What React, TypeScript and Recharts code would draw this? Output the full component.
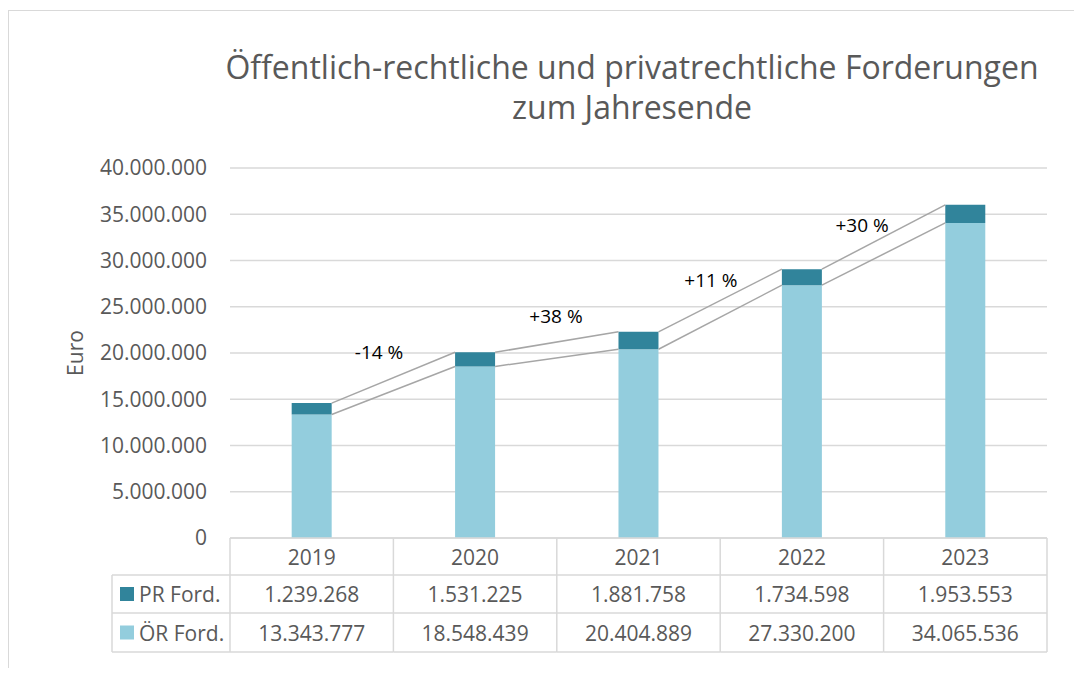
import React from 'react';
import { ComposedChart, Bar, XAxis, YAxis, CartesianGrid, ReferenceLine, ReferenceDot } from 'recharts';

// ---- data ----
const years = ['2019', '2020', '2021', '2022', '2023'];
const prFord = [1239268, 1531225, 1881758, 1734598, 1953553];
const oerFord = [13343777, 18548439, 20404889, 27330200, 34065536];
const yTicks = [0, 5000000, 10000000, 15000000, 20000000, 25000000, 30000000, 35000000, 40000000];
const seriesNames = ['PR Ford.', 'ÖR Ford.'];
const changeLabels = ['-14 %', '+38 %', '+11 %', '+30 %'];
const changeLabelX = [0.912, 1.995, 2.943, 3.868];
const changeLabelY = [20050000, 24020000, 27900000, 33780000];
const titleLines = ['Öffentlich-rechtliche und privatrechtliche Forderungen', 'zum Jahresende'];

// ---- styles ----
const FONT = "'Open Sans', 'Noto Sans', sans-serif";
const TEXT = '#595959';
const GRID = '#D9D9D9';
const PR_COLOR = '#31849B';
const OER_COLOR = '#93CDDD';
const CONNECTOR = '#A6A6A6';
const BAR_FRAC = 0.245;
const W = 1060;
const H = 650;
const ROW_TOP = [0, 37, 75, 114];
const LEGEND_W = 118;

const data = years.map((year, i) => ({ year, pos: i + 0.5, oer: oerFord[i], pr: prFord[i] }));
const totals = years.map((_, i) => oerFord[i] + prFord[i]);

const fmt = (n: number) => Math.round(n).toString().replace(/\B(?=(\d{3})+(?!\d))/g, '.');

const TableTick = (props: any) => {
  const { x, y, index, payload, width, visibleTicksCount } = props;
  const band = width && visibleTicksCount ? width / visibleTicksCount : 163.4;
  const half = band / 2;
  const top = y - 8;
  const left = x - half;
  const right = x + half;
  const txt = { fill: TEXT, fontSize: 21, fontFamily: FONT, textAnchor: 'middle' as const, dominantBaseline: 'central' as const };
  const rowsMid = [(ROW_TOP[0] + ROW_TOP[1]) / 2, (ROW_TOP[1] + ROW_TOP[2]) / 2, (ROW_TOP[2] + ROW_TOP[3]) / 2];
  return (
    <g>
      <line x1={right} x2={right} y1={top} y2={top + ROW_TOP[3]} stroke={GRID} strokeWidth={1.5} />
      {[1, 2, 3].map((r) => (
        <line key={r} x1={left} x2={right} y1={top + ROW_TOP[r]} y2={top + ROW_TOP[r]} stroke={GRID} strokeWidth={1.5} />
      ))}
      <text x={x} y={top + rowsMid[0]} {...txt}>{payload.value}</text>
      <text x={x} y={top + rowsMid[1]} {...txt}>{fmt(prFord[index])}</text>
      <text x={x} y={top + rowsMid[2]} {...txt}>{fmt(oerFord[index])}</text>
      {index === 0 && (
        <g>
          <line x1={left} x2={left} y1={top} y2={top + ROW_TOP[3]} stroke={GRID} strokeWidth={1.5} />
          <line x1={left - LEGEND_W} x2={left - LEGEND_W} y1={top + ROW_TOP[1]} y2={top + ROW_TOP[3]} stroke={GRID} strokeWidth={1.5} />
          {[1, 2, 3].map((r) => (
            <line key={r} x1={left - LEGEND_W} x2={left} y1={top + ROW_TOP[r]} y2={top + ROW_TOP[r]} stroke={GRID} strokeWidth={1.5} />
          ))}
          {[PR_COLOR, OER_COLOR].map((c, k) => (
            <g key={k}>
              <rect x={left - LEGEND_W + 8} y={top + rowsMid[k + 1] - 7} width={14} height={14} fill={c} />
              <text x={left - LEGEND_W + 27} y={top + rowsMid[k + 1]} fill={TEXT} fontSize={21} fontFamily={FONT} dominantBaseline="central">
                {seriesNames[k]}
              </text>
            </g>
          ))}
        </g>
      )}
    </g>
  );
};

const EuroLabel = (props: any) => {
  const vb = props.viewBox || { x: 0, y: 157, height: 370 };
  const cx = vb.x + 66;
  const cy = vb.y + vb.height / 2;
  return (
    <text x={cx} y={cy} transform={`rotate(-90 ${cx} ${cy})`} textAnchor="middle" dominantBaseline="central" fill={TEXT} fontSize={21} fontFamily={FONT}>
      Euro
    </text>
  );
};

export default function App() {
  const h = BAR_FRAC / 2;
  return (
    <div style={{ position: 'relative', width: 1066, height: 660, overflow: 'hidden' }}>
      <div style={{ position: 'absolute', left: 0, top: 2, width: 2000, height: 2000, borderTop: `1px solid ${GRID}`, borderLeft: `1px solid ${GRID}` }} />
      {titleLines.map((t, i) => (
        <div key={i} style={{ position: 'absolute', left: 124, width: 1000, top: 39 + i * 40, height: 40, lineHeight: '40px', textAlign: 'center', fontFamily: FONT, fontSize: 32, color: TEXT, whiteSpace: 'nowrap' }}>
          {t}
        </div>
      ))}
      <div style={{ position: 'absolute', left: 1, top: 3 }}>
        <ComposedChart width={W} height={H} data={data} margin={{ top: 157, right: 22, bottom: 8, left: 0 }} barCategoryGap={`${((1 - BAR_FRAC) / 2) * 100}%`}>
          <CartesianGrid vertical={false} stroke={GRID} strokeWidth={1.5} />
          <XAxis dataKey="year" height={115} axisLine={{ stroke: GRID, strokeWidth: 1.5 }} tickLine={false} interval={0} tick={<TableTick />} />
          <XAxis xAxisId="num" dataKey="pos" type="number" domain={[0, 5]} allowDataOverflow hide />
          <YAxis
            width={221}
            domain={[0, 40000000]}
            ticks={yTicks}
            interval={0}
            axisLine={false}
            tickLine={false}
            tickMargin={17}
            tickFormatter={fmt}
            tick={{ fill: TEXT, fontSize: 21, fontFamily: FONT }}
            label={<EuroLabel />}
          />
          <Bar dataKey="oer" stackId="a" fill={OER_COLOR} isAnimationActive={false} />
          <Bar dataKey="pr" stackId="a" fill={PR_COLOR} isAnimationActive={false} />
          {years.slice(0, -1).map((_, i) => (
            <ReferenceLine
              key={`t${i}`}
              xAxisId="num"
              segment={[{ x: i + 0.5 + h, y: totals[i] }, { x: i + 1.5 - h, y: totals[i + 1] }]}
              stroke={CONNECTOR}
              strokeWidth={1.5}
            />
          ))}
          {years.slice(0, -1).map((_, i) => (
            <ReferenceLine
              key={`o${i}`}
              xAxisId="num"
              segment={[{ x: i + 0.5 + h, y: oerFord[i] }, { x: i + 1.5 - h, y: oerFord[i + 1] }]}
              stroke={CONNECTOR}
              strokeWidth={1.5}
            />
          ))}
          {changeLabels.map((t, i) => (
            <ReferenceDot
              key={`l${i}`}
              xAxisId="num"
              x={changeLabelX[i]}
              y={changeLabelY[i]}
              r={0}
              fill="none"
              stroke="none"
              label={{ value: t, position: 'center', fill: '#000000', fontSize: 19, fontFamily: FONT }}
            />
          ))}
        </ComposedChart>
      </div>
    </div>
  );
}
